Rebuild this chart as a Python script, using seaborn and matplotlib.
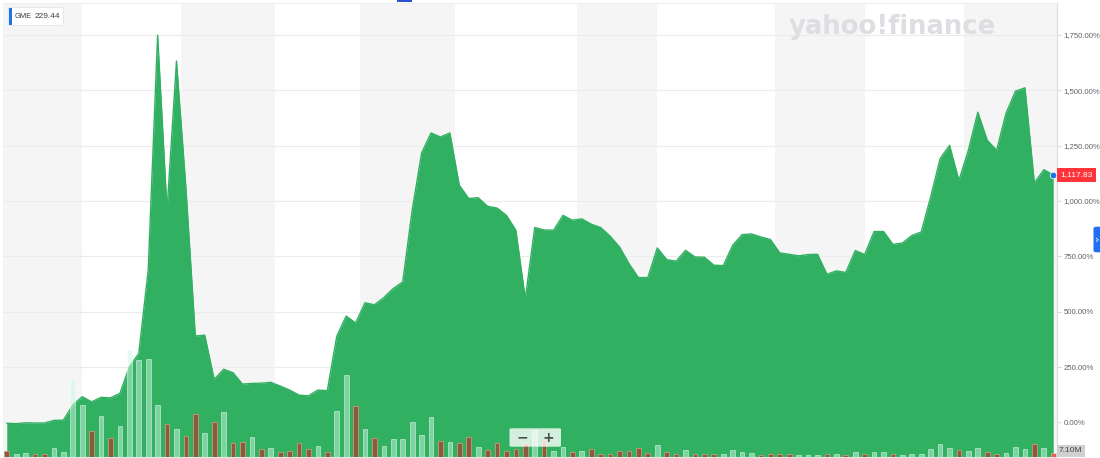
import matplotlib
matplotlib.use("Agg")
import matplotlib.pyplot as plt
import matplotlib.transforms as mtransforms
from matplotlib.patches import Rectangle, FancyBboxPatch
import numpy as np
import pandas as pd
import seaborn as sns

# % change vs. base close, one value per trading day
pct_change = [
    -4, -6, -2, -3, -3, 9, 10, 78, 116, 93,
    113, 111, 131, 251, 311, 687, 1748, 958, 1632, 1060,
    390, 394, 194, 240, 224, 173, 176, 177, 181, 164,
    146, 123, 120, 146, 143, 389, 480, 449, 540, 531,
    564, 605, 634, 958, 1216, 1307, 1289, 1307, 1071, 1011,
    1015, 976, 968, 935, 868, 559, 880, 869, 868, 935,
    913, 919, 895, 880, 841, 792, 717, 654, 654, 788,
    735, 728, 777, 747, 746, 710, 708, 800, 848, 851,
    837, 826, 765, 759, 752, 758, 759, 669, 684, 677,
    776, 758, 862, 862, 804, 810, 844, 860, 1018, 1191,
    1251, 1093, 1229, 1401, 1274, 1229, 1397, 1496, 1511, 1081,
    1141, 1117.83,
]

# daily volume, millions of shares
volume_m = [
    12.3, 5.8, 7.1, 6.5, 6.5, 17.8, 9.2, 167, 111, 55.3,
    87.5, 39.3, 66.7, 229, 208, 209, 111, 69.4, 59.6, 43.6,
    91.8, 51, 73.7, 95.2, 30.1, 30.7, 42.4, 15.7, 17.8, 10.8,
    11.4, 28.6, 17.2, 23, 9.2, 97.4, 176, 108, 58.7, 39.3,
    23, 38.7, 37.2, 75.3, 46.7, 84.5, 34.4, 31.6, 28.6, 42.4,
    20, 14.4, 30.1, 11.4, 17.2, 28.6, 58, 35.9, 12.3, 20,
    10.1, 12.3, 17.2, 6.5, 5.8, 11.4, 11.4, 19.4, 8.6, 25.8,
    10.1, 5.8, 14.4, 5.8, 4.9, 5.8, 4.9, 14.4, 10.8, 7.1,
    4.3, 5.8, 6.5, 4.9, 2.8, 3.7, 3.7, 6.5, 5.8, 3.7,
    10.8, 6.5, 9.2, 10.1, 5.8, 3.7, 4.9, 6.5, 17.2, 26.4,
    18.7, 15.1, 12.3, 18.7, 10.8, 4.9, 7.1, 21.5, 15.7, 26.4,
    18.7, 7.1,
]

# u = up day, d = down day
volume_dir = list(
    "duudduuuud" "uduuuuudud" "dududdudud" "ddduduudud" "uuuuuududd"
    "uddddduduu" "dudddddddu" "dduddduuuu" "dddduuudud" "uduuduuuuu"
    "uduudduuud" "ud"
)

ticker = "GME"
last_price = "229.44"
last_pct = 1117.83
last_volume = "7.10M"
y_ticks = [0, 250, 500, 750, 1000, 1250, 1500, 1750]

# alternating background bands (day-index edges)
band_edges = [-0.4, 8.0, 18.5, 28.5, 37.5, 47.5, 60.5, 69.0, 81.5, 91.0, 101.5, 111.4]

GREEN = "#32b062"
BAND = "#f5f5f6"
UP_BAR = (199 / 255, 251 / 255, 223 / 255, 0.5)
DOWN_BAR = "#8c5a3c"
LAST_BAR = "#ef5a52"

sns.set_style("white")
plt.rcParams["font.family"] = ["Liberation Sans", "DejaVu Sans"]

df = pd.DataFrame({
    "day": np.arange(len(pct_change)),
    "pct": pct_change,
    "vol": volume_m,
    "dir": volume_dir,
})

W, H = 1100, 458
fig = plt.figure(figsize=(W / 100, H / 100), dpi=100)
ax = fig.add_axes([3 / W, 1 - 456.7 / H, (1057 - 3) / W, (456.7 - 3) / H])

y_lo, y_hi = -155, 1894

for k in range(0, len(band_edges) - 1, 2):
    ax.axvspan(band_edges[k], band_edges[k + 1], color=BAND, lw=0, zorder=0)
for t in y_ticks:
    ax.axhline(t, color="#ececec", lw=0.8, zorder=0.5)

ax.fill_between(df["day"], df["pct"], y_lo, color=GREEN, lw=0, zorder=2)
sns.lineplot(data=df, x="day", y="pct", ax=ax, color=GREEN, lw=1, zorder=3)
ax.scatter([df["day"].iloc[-1]], [last_pct], s=22, color="#1a73e8", zorder=6,
           edgecolor="white", linewidth=0.5, clip_on=False)

# volume bars on a twin axis
ax2 = ax.twinx()
sns.barplot(data=df, x="day", y="vol", ax=ax2, native_scale=True, width=0.5,
            color=GREEN, saturation=1, errorbar=None)
for i, (patch, d) in enumerate(zip(ax2.patches, df["dir"])):
    if i == len(df) - 1:
        patch.set_facecolor(LAST_BAR)
        patch.set_edgecolor((1, 1, 1, 0.4))
    elif d == "u":
        patch.set_facecolor(UP_BAR)
        patch.set_edgecolor((1, 1, 1, 0.55))
    else:
        patch.set_facecolor(DOWN_BAR)
        patch.set_edgecolor("#c99a7e")
    patch.set_linewidth(0.6)
ax2.set_ylim(0, 975)
ax2.set_ylabel("")
ax2.set_xlabel("")
ax2.yaxis.set_visible(False)
for s in ax2.spines.values():
    s.set_visible(False)

ax.set_ylim(y_lo, y_hi)
ax.set_xlim(band_edges[0], band_edges[-1])
ax.set_xlabel("")
ax.set_ylabel("")
ax.yaxis.tick_right()
ax.set_yticks(y_ticks)
ax.set_yticklabels([f"{t:,.2f}%" for t in y_ticks])
ax.tick_params(axis="y", length=3, color="#dadada", labelsize=5.6,
               labelcolor="#5f6368", pad=1.5)
ax.set_xticks(band_edges[1:-1])
ax.set_xticklabels([])
ax.tick_params(axis="x", length=2, color="#d0d0d0")
ax.spines["left"].set_visible(False)
ax.spines["right"].set_color("#dcdcdc")
ax.spines["top"].set_color("#eeeeee")
ax.spines["bottom"].set_color("#e6e6e6")

# current value flag on the right axis
trans = mtransforms.blended_transform_factory(ax.transAxes, ax.transData)
ax.text(1.0035, last_pct, f"{last_pct:,.2f}", transform=trans, fontsize=6,
        color="white", va="center", ha="left", zorder=7,
        bbox=dict(boxstyle="square,pad=0.4", fc="#ff333a", ec="none"))


def fx(x):
    return x / W


def fy(y):
    return 1 - y / H


# ticker badge
fig.patches.append(FancyBboxPatch((fx(8.3), fy(25.5)), fx(55), 18 / H,
                                  boxstyle="round,pad=0,rounding_size=0.002",
                                  transform=fig.transFigure, fc="white",
                                  ec="#e4e4e4", lw=0.6, zorder=10))
fig.patches.append(Rectangle((fx(8.8), fy(25)), fx(2.8), 17 / H,
                             transform=fig.transFigure, fc="#1b74e8",
                             ec="none", zorder=11))
fig.text(fx(15.0), fy(16.3), ticker, fontsize=5.4, color="#3c4043",
         va="center", ha="left", zorder=12)
fig.text(fx(34.5), fy(16.3), last_price, fontsize=6, color="#3c4043",
         va="center", ha="left", zorder=12)

# watermark
fig.text(fx(789), fy(33.5), "yahoo!finance", fontsize=18.6, color="#dcdee2",
         family=["DejaVu Sans"], fontweight="bold",
         va="baseline", ha="left", zorder=1)

# top indicator
fig.patches.append(Rectangle((fx(397), fy(2)), fx(15), 2 / H,
                             transform=fig.transFigure, fc="#2c4fd6",
                             ec="none", zorder=10))

# volume label
fig.text(fx(1059), fy(450.5), last_volume, fontsize=6, color="#444444",
         va="center", ha="left", zorder=12,
         bbox=dict(boxstyle="square,pad=0.3", fc="#cfd0d2", ec="none"))

# side tab
fig.patches.append(FancyBboxPatch((fx(1093.5), fy(252.3)), fx(10), 25.6 / H,
                                  boxstyle="round,pad=0,rounding_size=0.003",
                                  transform=fig.transFigure, fc="#1e6ff5",
                                  ec="none", zorder=10))
fig.text(fx(1095.5), fy(240), "\u203a", fontsize=8, color="white",
         va="center", ha="left", zorder=11, family=["DejaVu Sans"])

# zoom control
fig.patches.append(FancyBboxPatch((fx(509.5), fy(446.7)), fx(51.5), 18.4 / H,
                                  boxstyle="round,pad=0,rounding_size=0.002",
                                  transform=fig.transFigure, fc=(1, 1, 1, 0.8),
                                  ec="none", zorder=10))
fig.text(fx(522.3), fy(437.5), "\u2212", fontsize=10, color="#4d4d4d",
         fontweight="bold", va="center", ha="center", zorder=11,
         family=["DejaVu Sans"])
fig.text(fx(548.3), fy(437.5), "+", fontsize=10, color="#4d4d4d",
         fontweight="bold", va="center", ha="center", zorder=11,
         family=["DejaVu Sans"])

fig.savefig("out.png", dpi=100)
